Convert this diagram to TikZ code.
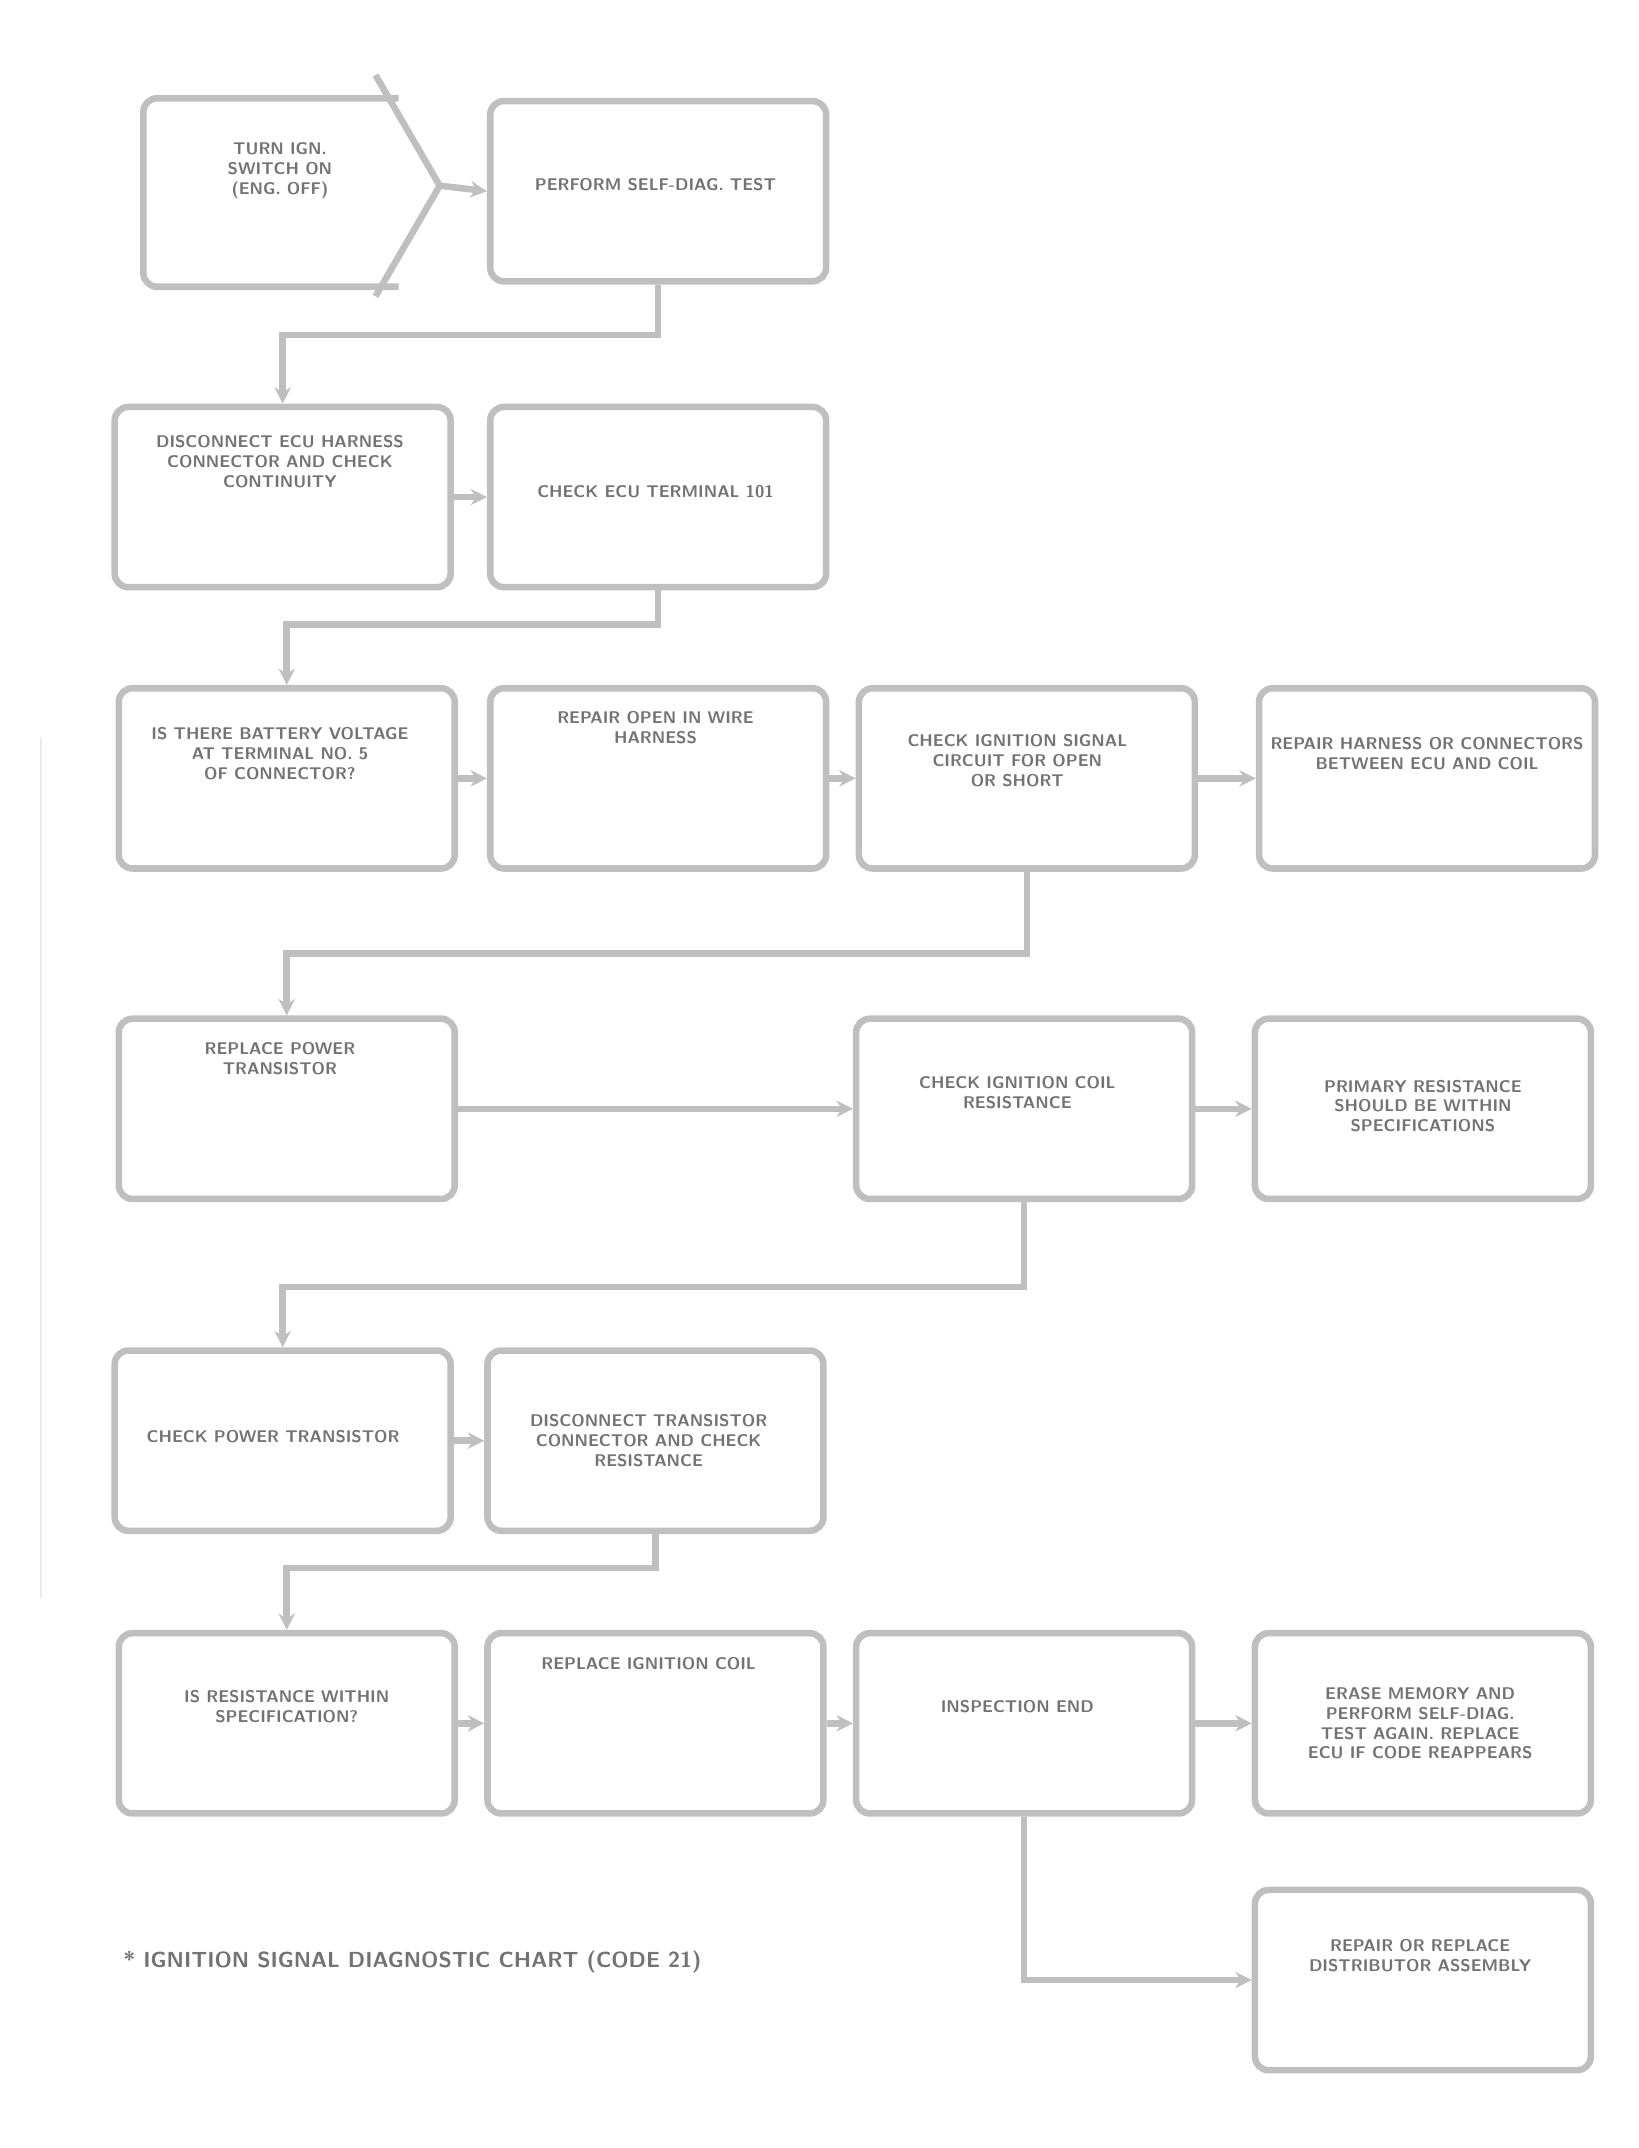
\documentclass[tikz,border=0pt]{standalone}
\usetikzlibrary{arrows.meta}
\begin{document}
\begin{tikzpicture}[x=0.5pt,y=-0.5pt,
  bx/.style={draw=black!25, line width=2.4pt, rounded corners=5pt, minimum width=123pt, minimum height=66pt, inner sep=0pt},
  ln/.style={draw=black!25, line width=2.4pt},
  cn/.style={draw=black!25, line width=2.4pt, -{Stealth[length=6pt,width=6pt]}},
  tx/.style={font=\sffamily\bfseries\fontsize{6.2}{7.2}\selectfont, text=black!55, align=center, inner sep=0pt},
  captxt/.style={font=\sffamily\bfseries\fontsize{8}{9}\selectfont, text=black!55, inner sep=0pt}]
\useasboundingbox (0,0) rectangle (1200,1573);
% faint margin line
\draw[black!8, line width=1pt] (30,540) -- (30,1170);
% start shape
\draw[ln, rounded corners=5pt] (292,72) -- (105,72) -- (105,210) -- (292,210);
\draw[ln] (275,55) -- (322,136) -- (275,217);
\coordinate (sp) at (322,136);
\node[tx] (t1) at (205,125) {TURN IGN.\\SWITCH ON\\(ENG. OFF)};
% boxes
\node[bx] (b2) at (482,140) {};
\node[bx] (b3) at (207,364) {};
\node[bx] (b4) at (482,364) {};
\node[bx] (b5) at (210,570) {};
\node[bx] (b6) at (482,570) {};
\node[bx] (b7) at (752,570) {};
\node[bx] (b8) at (1045,570) {};
\node[bx] (b9) at (210,812) {};
\node[bx] (b10) at (750,812) {};
\node[bx] (b11) at (1042,812) {};
\node[bx] (b12) at (207,1055) {};
\node[bx] (b13) at (480,1055) {};
\node[bx] (b14) at (210,1262) {};
\node[bx] (b15) at (480,1262) {};
\node[bx] (b16) at (750,1262) {};
\node[bx] (b17) at (1042,1262) {};
\node[bx] (b18) at (1042,1450) {};
% texts
\node[tx] (t2) at (480,135) {PERFORM SELF-DIAG. TEST};
\node[tx] (t3) at (205,338) {DISCONNECT ECU HARNESS\\CONNECTOR AND CHECK\\CONTINUITY};
\node[tx] (t4) at (480,360) {CHECK ECU TERMINAL 101};
\node[tx] (t5) at (205,552) {IS THERE BATTERY VOLTAGE\\AT TERMINAL NO. 5\\OF CONNECTOR?};
\node[tx] (t6) at (480,533) {REPAIR OPEN IN WIRE\\HARNESS};
\node[tx] (t7) at (745,557) {CHECK IGNITION SIGNAL\\CIRCUIT FOR OPEN\\OR SHORT};
\node[tx] (t8) at (1045,552) {REPAIR HARNESS OR CONNECTORS\\BETWEEN ECU AND COIL};
\node[tx] (t9) at (205,775) {REPLACE POWER\\TRANSISTOR};
\node[tx] (t10) at (745,800) {CHECK IGNITION COIL\\RESISTANCE};
\node[tx] (t11) at (1042,810) {PRIMARY RESISTANCE\\SHOULD BE WITHIN\\SPECIFICATIONS};
\node[tx] (t12) at (200,1052) {CHECK POWER TRANSISTOR};
\node[tx] (t13) at (475,1055) {DISCONNECT TRANSISTOR\\CONNECTOR AND CHECK\\RESISTANCE};
\node[tx] (t14) at (210,1250) {IS RESISTANCE WITHIN\\SPECIFICATION?};
\node[tx] (t15) at (475,1218) {REPLACE IGNITION COIL};
\node[tx] (t16) at (745,1250) {INSPECTION END};
\node[tx] (t17) at (1040,1262) {ERASE MEMORY AND\\PERFORM SELF-DIAG.\\TEST AGAIN. REPLACE\\ECU IF CODE REAPPEARS};
\node[tx] (t18) at (1040,1432) {REPAIR OR REPLACE\\DISTRIBUTOR ASSEMBLY};
\node[captxt, anchor=west] (capt) at (90,1437) {* IGNITION SIGNAL DIAGNOSTIC CHART (CODE 21)};
% connectors
\draw[cn] (sp) -- (b2.west);
\draw[cn] (b2.south) -- ++(0,37) -| (b3.north);
\draw[cn] (b3.east) -- (b4.west);
\draw[cn] (b4.south) -- ++(0,25) -| (b5.north);
\draw[cn] (b5.east) -- (b6.west);
\draw[cn] (b6.east) -- (b7.west);
\draw[cn] (b7.east) -- (b8.west);
\draw[cn] (b7.south) -- ++(0,60) -| (b9.north);
\draw[cn] (b9.east) -- (b10.west);
\draw[cn] (b10.east) -- (b11.west);
\draw[cn] (b10.south) -- ++(0,62) -| (b12.north);
\draw[cn] (b12.east) -- (b13.west);
\draw[cn] (b13.south) -- ++(0,25) -| (b14.north);
\draw[cn] (b14.east) -- (b15.west);
\draw[cn] (b15.east) -- (b16.west);
\draw[cn] (b16.east) -- (b17.west);
\draw[cn] (b16.south) |- (b18.west);
\end{tikzpicture}
\end{document}
